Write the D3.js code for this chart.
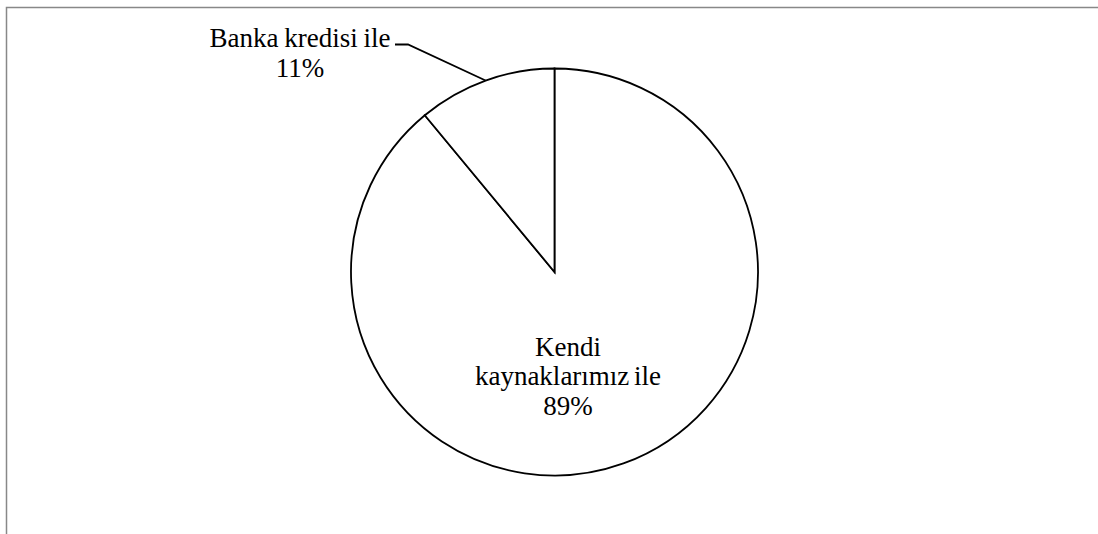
<!DOCTYPE html>
<html><head><meta charset="utf-8">
<script src="https://cdn.jsdelivr.net/npm/d3@7"></script>
<style>html,body{margin:0;padding:0;background:#fff;}svg{display:block;}</style>
</head><body>
<svg id="c" width="1098" height="534"></svg>
<script>
const categories = ["Kendi kaynaklarımız ile", "Banka kredisi ile"];
const values = [89, 11];
const valueLabels = ["89%", "11%"];

const svg = d3.select("#c");
// frame
svg.append("path").attr("d","M6.5,534 L6.5,7.5 L1098,7.5")
  .attr("fill","none").attr("stroke","#888").attr("stroke-width",1.5);

const cx = 554.5, cy = 272, r = 203.5;
const g = svg.append("g").attr("transform",`translate(${cx},${cy})`);
const pie = d3.pie().sort(null).value(d=>d)(values);
const arc = d3.arc().innerRadius(0).outerRadius(r);
g.selectAll("path.s").data(pie).enter().append("path")
  .attr("d",arc).attr("fill","#fff").attr("stroke","#000").attr("stroke-width",1.8);

const font = "Liberation Serif";
// Kendi label inside
const t1 = svg.append("text").style("font-family",font).attr("font-size",27)
  .attr("text-anchor","middle").attr("fill","#000").attr("word-spacing",-2);
[["Kendi",356],["kaynaklarımız ile",385],[valueLabels[0],415]].forEach(([s,y])=>{
  t1.append("tspan").attr("x",568).attr("y",y).text(s);
});
// Banka label outside with leader
const mid = (pie[1].startAngle + pie[1].endAngle)/2;
const p0 = [cx + r*Math.sin(mid), cy - r*Math.cos(mid)];
svg.append("path").attr("d",`M${p0[0]},${p0[1]} L408,44.5 L395,44.5`)
  .attr("fill","none").attr("stroke","#000").attr("stroke-width",1.8);
const t2 = svg.append("text").style("font-family",font).attr("font-size",27)
  .attr("text-anchor","middle").attr("fill","#000").attr("word-spacing",-1);
[[categories[1],47],[valueLabels[1],77]].forEach(([s,y])=>{
  t2.append("tspan").attr("x",300).attr("y",y).text(s);
});
</script>
</body></html>
